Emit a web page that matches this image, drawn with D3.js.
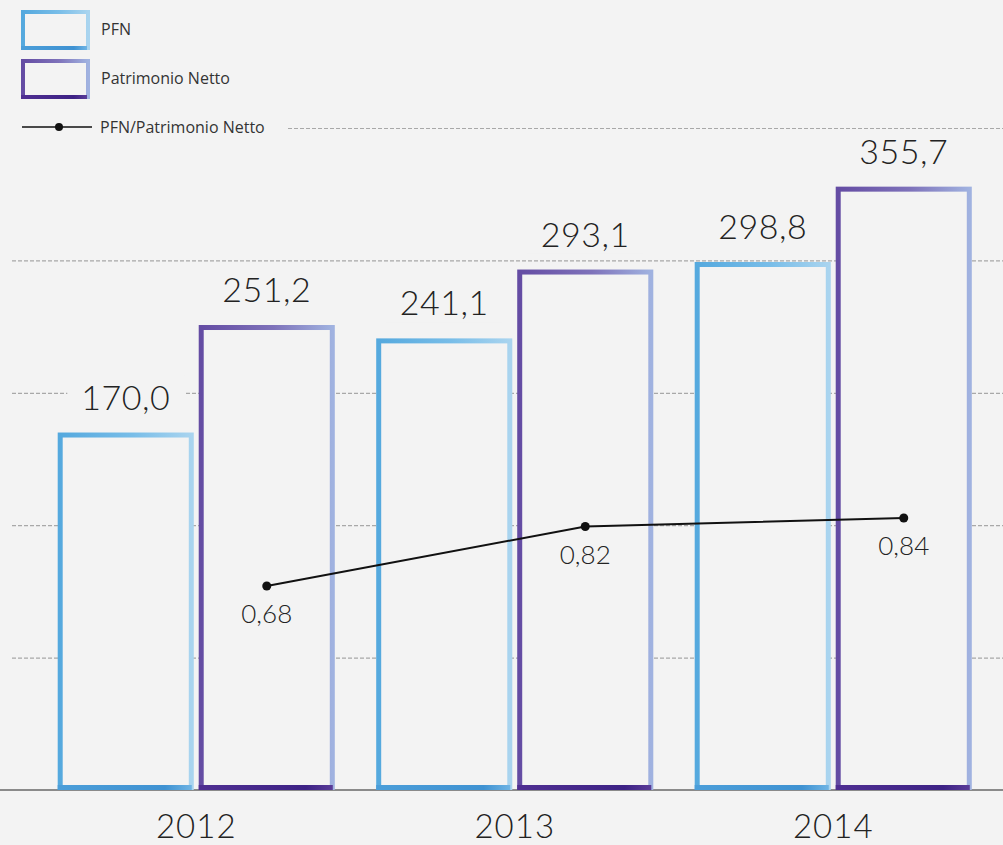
<!DOCTYPE html>
<html>
<head>
<meta charset="utf-8">
<script src="https://cdn.jsdelivr.net/npm/d3@7"></script>
<style>
  body { margin: 0; background: #f3f3f3; }
  svg { display: block; }
</style>
</head>
<body>
<div id="chart"></div>
<script>
// chart data
var years = ["2012", "2013", "2014"];
var series = ["PFN", "Patrimonio Netto"];
var pfn = [170.0, 241.1, 298.8];
var patrimonio = [251.2, 293.1, 355.7];
var ratio = [0.68, 0.82, 0.84];
var gridTicks = [0, 100, 200, 300, 400];
var ratioLabel = "PFN/Patrimonio Netto";

// dimensions
var width = 1003,
    height = 845,
    bg = "#f3f3f3";

var it = d3.formatLocale({decimal: ",", thousands: ".", grouping: [3], currency: ["", "€"]});
var fmt1 = it.format(".1f"),
    fmt2 = it.format(".2f");

var svg = d3.select("#chart")
    .append("svg")
    .attr("width", width)
    .attr("height", height)
    .style("background", bg);

// gradients to mimic the watercolour strokes
var defs = svg.append("defs");
var gradients = [
    {id: "gPFN", stops: [["0%", "#55a9de"], ["55%", "#78bde8"], ["100%", "#a9d4ef"]]},
    {id: "gPN", stops: [["0%", "#644ca3"], ["55%", "#7e72ba"], ["100%", "#a0b2e0"]]},
    {id: "bPFN", stops: [["0%", "#4b9ed9"], ["80%", "#3f92d2"], ["100%", "#6fb4e4"]]},
    {id: "bPN", stops: [["0%", "#4f2f92"], ["80%", "#3d2285"], ["100%", "#5a3c98"]]}
];
gradients.forEach(function(g) {
    var lg = defs.append("linearGradient")
        .attr("id", g.id)
        .attr("x1", "0%").attr("x2", "100%")
        .attr("y1", "0%").attr("y2", "0%");
    g.stops.forEach(function(s) {
        lg.append("stop").attr("offset", s[0]).attr("stop-color", s[1]);
    });
});
var strokeFor = {"PFN": "url(#gPFN)", "Patrimonio Netto": "url(#gPN)"};
var bottomFor = {"PFN": "url(#bPFN)", "Patrimonio Netto": "url(#bPN)"};

// scales
var x0 = d3.scaleBand()
    .domain(years)
    .range([37, 992.5])
    .paddingInner(0.13)
    .paddingOuter(0.065);

var x1 = d3.scaleBand()
    .domain(series)
    .range([0, x0.bandwidth()])
    .paddingInner(0.035);

var y = d3.scaleLinear()
    .domain([-100, 400])
    .range([790, 128]);

var yRatio = d3.scaleLinear()
    .domain([0.5, 1.0])
    .range([662.5, 450]);

// dashed gridlines
var grid = svg.append("g")
    .attr("class", "grid")
    .attr("transform", "translate(12,0)")
    .call(d3.axisLeft(y).tickValues(gridTicks).tickSize(-(width - 12)).tickFormat(""));
grid.select(".domain").remove();
grid.selectAll("line")
    .attr("stroke", "#a8a8a8")
    .attr("stroke-width", 1.2)
    .attr("stroke-dasharray", "4,2");

// baseline
svg.append("line")
    .attr("x1", 0)
    .attr("x2", width)
    .attr("y1", y(-100))
    .attr("y2", y(-100))
    .attr("stroke", "#8a8a8a")
    .attr("stroke-width", 2);

// build rows
var rows = [];
years.forEach(function(yr, i) {
    rows.push({year: yr, key: "PFN", value: pfn[i]});
    rows.push({year: yr, key: "Patrimonio Netto", value: patrimonio[i]});
});

var sw = 5;

// bars
var bars = svg.append("g").attr("class", "bars");
bars.selectAll("rect")
    .data(rows)
    .enter()
    .append("rect")
    .attr("x", function(d) { return x0(d.year) + x1(d.key) + sw / 2; })
    .attr("y", function(d) { return y(d.value) + sw / 2; })
    .attr("width", x1.bandwidth() - sw)
    .attr("height", function(d) { return y(-100) - y(d.value) - sw; })
    .attr("fill", bg)
    .attr("stroke", function(d) { return strokeFor[d.key]; })
    .attr("stroke-width", sw);

// darker bottom edge
bars.selectAll("line.bottom")
    .data(rows)
    .enter()
    .append("rect")
    .attr("class", "bottom")
    .attr("x", function(d) { return x0(d.year) + x1(d.key); })
    .attr("y", y(-100) - sw)
    .attr("width", x1.bandwidth() - 2)
    .attr("height", sw)
    .attr("fill", function(d) { return bottomFor[d.key]; });

// value labels with background mask
var labels = svg.append("g").attr("class", "values");
var lab = labels.selectAll("g")
    .data(rows)
    .enter()
    .append("g");
lab.append("rect").attr("fill", bg);
lab.append("text")
    .attr("x", function(d) { return x0(d.year) + x1(d.key) + x1.bandwidth() / 2; })
    .attr("y", function(d) { return y(d.value) - 23; })
    .attr("text-anchor", "middle")
    .style("font-family", "Lato, sans-serif")
    .style("font-weight", 300)
    .style("font-size", "34px")
    .style("letter-spacing", "0.5px")
    .attr("fill", "#222")
    .text(function(d) { return fmt1(d.value); });
lab.each(function() {
    var g = d3.select(this);
    var b = g.select("text").node().getBBox();
    g.select("rect")
        .attr("x", b.x - 14)
        .attr("y", b.y)
        .attr("width", b.width + 28)
        .attr("height", b.height);
});

// year labels
svg.append("g")
    .selectAll("text")
    .data(years)
    .enter()
    .append("text")
    .attr("x", function(d) { return x0(d) + x0.bandwidth() / 2; })
    .attr("y", 838)
    .attr("text-anchor", "middle")
    .style("font-family", "Lato, sans-serif")
    .style("font-weight", 300)
    .style("font-size", "33px")
    .style("letter-spacing", "1px")
    .attr("fill", "#222")
    .text(function(d) { return d; });

// ratio line
var ratioPts = years.map(function(yr, i) {
    return {year: yr, value: ratio[i],
        x: x0(yr) + x1("Patrimonio Netto") + x1.bandwidth() / 2};
});
var line = d3.line()
    .x(function(d) { return d.x; })
    .y(function(d) { return yRatio(d.value); });

svg.append("path")
    .datum(ratioPts)
    .attr("d", line)
    .attr("fill", "none")
    .attr("stroke", "#111")
    .attr("stroke-width", 2);

svg.append("g")
    .selectAll("circle")
    .data(ratioPts)
    .enter()
    .append("circle")
    .attr("cx", function(d) { return d.x; })
    .attr("cy", function(d) { return yRatio(d.value); })
    .attr("r", 4.5)
    .attr("fill", "#111");

svg.append("g")
    .selectAll("text")
    .data(ratioPts)
    .enter()
    .append("text")
    .attr("x", function(d) { return d.x; })
    .attr("y", function(d) { return yRatio(d.value) + 37; })
    .attr("text-anchor", "middle")
    .style("font-family", "Lato, sans-serif")
    .style("font-weight", 300)
    .style("font-size", "26px")
    .attr("fill", "#222")
    .text(function(d) { return fmt2(d.value); });

// legend
var legend = svg.append("g").attr("class", "legend");

legend.append("rect")
    .attr("x", 0)
    .attr("y", 118)
    .attr("width", 287)
    .attr("height", 18)
    .attr("fill", bg);

var legendItems = legend.selectAll("g.item")
    .data(series)
    .enter()
    .append("g")
    .attr("class", "item")
    .attr("transform", function(d, i) { return "translate(21," + (10 + i * 49) + ")"; });

legendItems.append("rect")
    .attr("x", 2)
    .attr("y", 2)
    .attr("width", 65)
    .attr("height", 36)
    .attr("fill", bg)
    .attr("stroke", function(d) { return strokeFor[d]; })
    .attr("stroke-width", 4);

legendItems.append("rect")
    .attr("x", 0)
    .attr("y", 36)
    .attr("width", 66)
    .attr("height", 4)
    .attr("fill", function(d) { return bottomFor[d]; });

legendItems.append("text")
    .attr("x", 80)
    .attr("y", 19)
    .attr("dy", "0.35em")
    .style("font-family", "'Open Sans', sans-serif")
    .style("font-size", "16px")
    .attr("fill", "#333")
    .text(function(d) { return d; });

legend.append("line")
    .attr("x1", 22)
    .attr("x2", 92)
    .attr("y1", 127)
    .attr("y2", 127)
    .attr("stroke", "#111")
    .attr("stroke-width", 1.5);

legend.append("circle")
    .attr("cx", 59)
    .attr("cy", 127)
    .attr("r", 4)
    .attr("fill", "#111");

legend.append("text")
    .attr("x", 100)
    .attr("y", 127)
    .attr("dy", "0.35em")
    .style("font-family", "'Open Sans', sans-serif")
    .style("font-size", "16px")
    .attr("fill", "#333")
    .text(ratioLabel);
</script>
</body>
</html>
